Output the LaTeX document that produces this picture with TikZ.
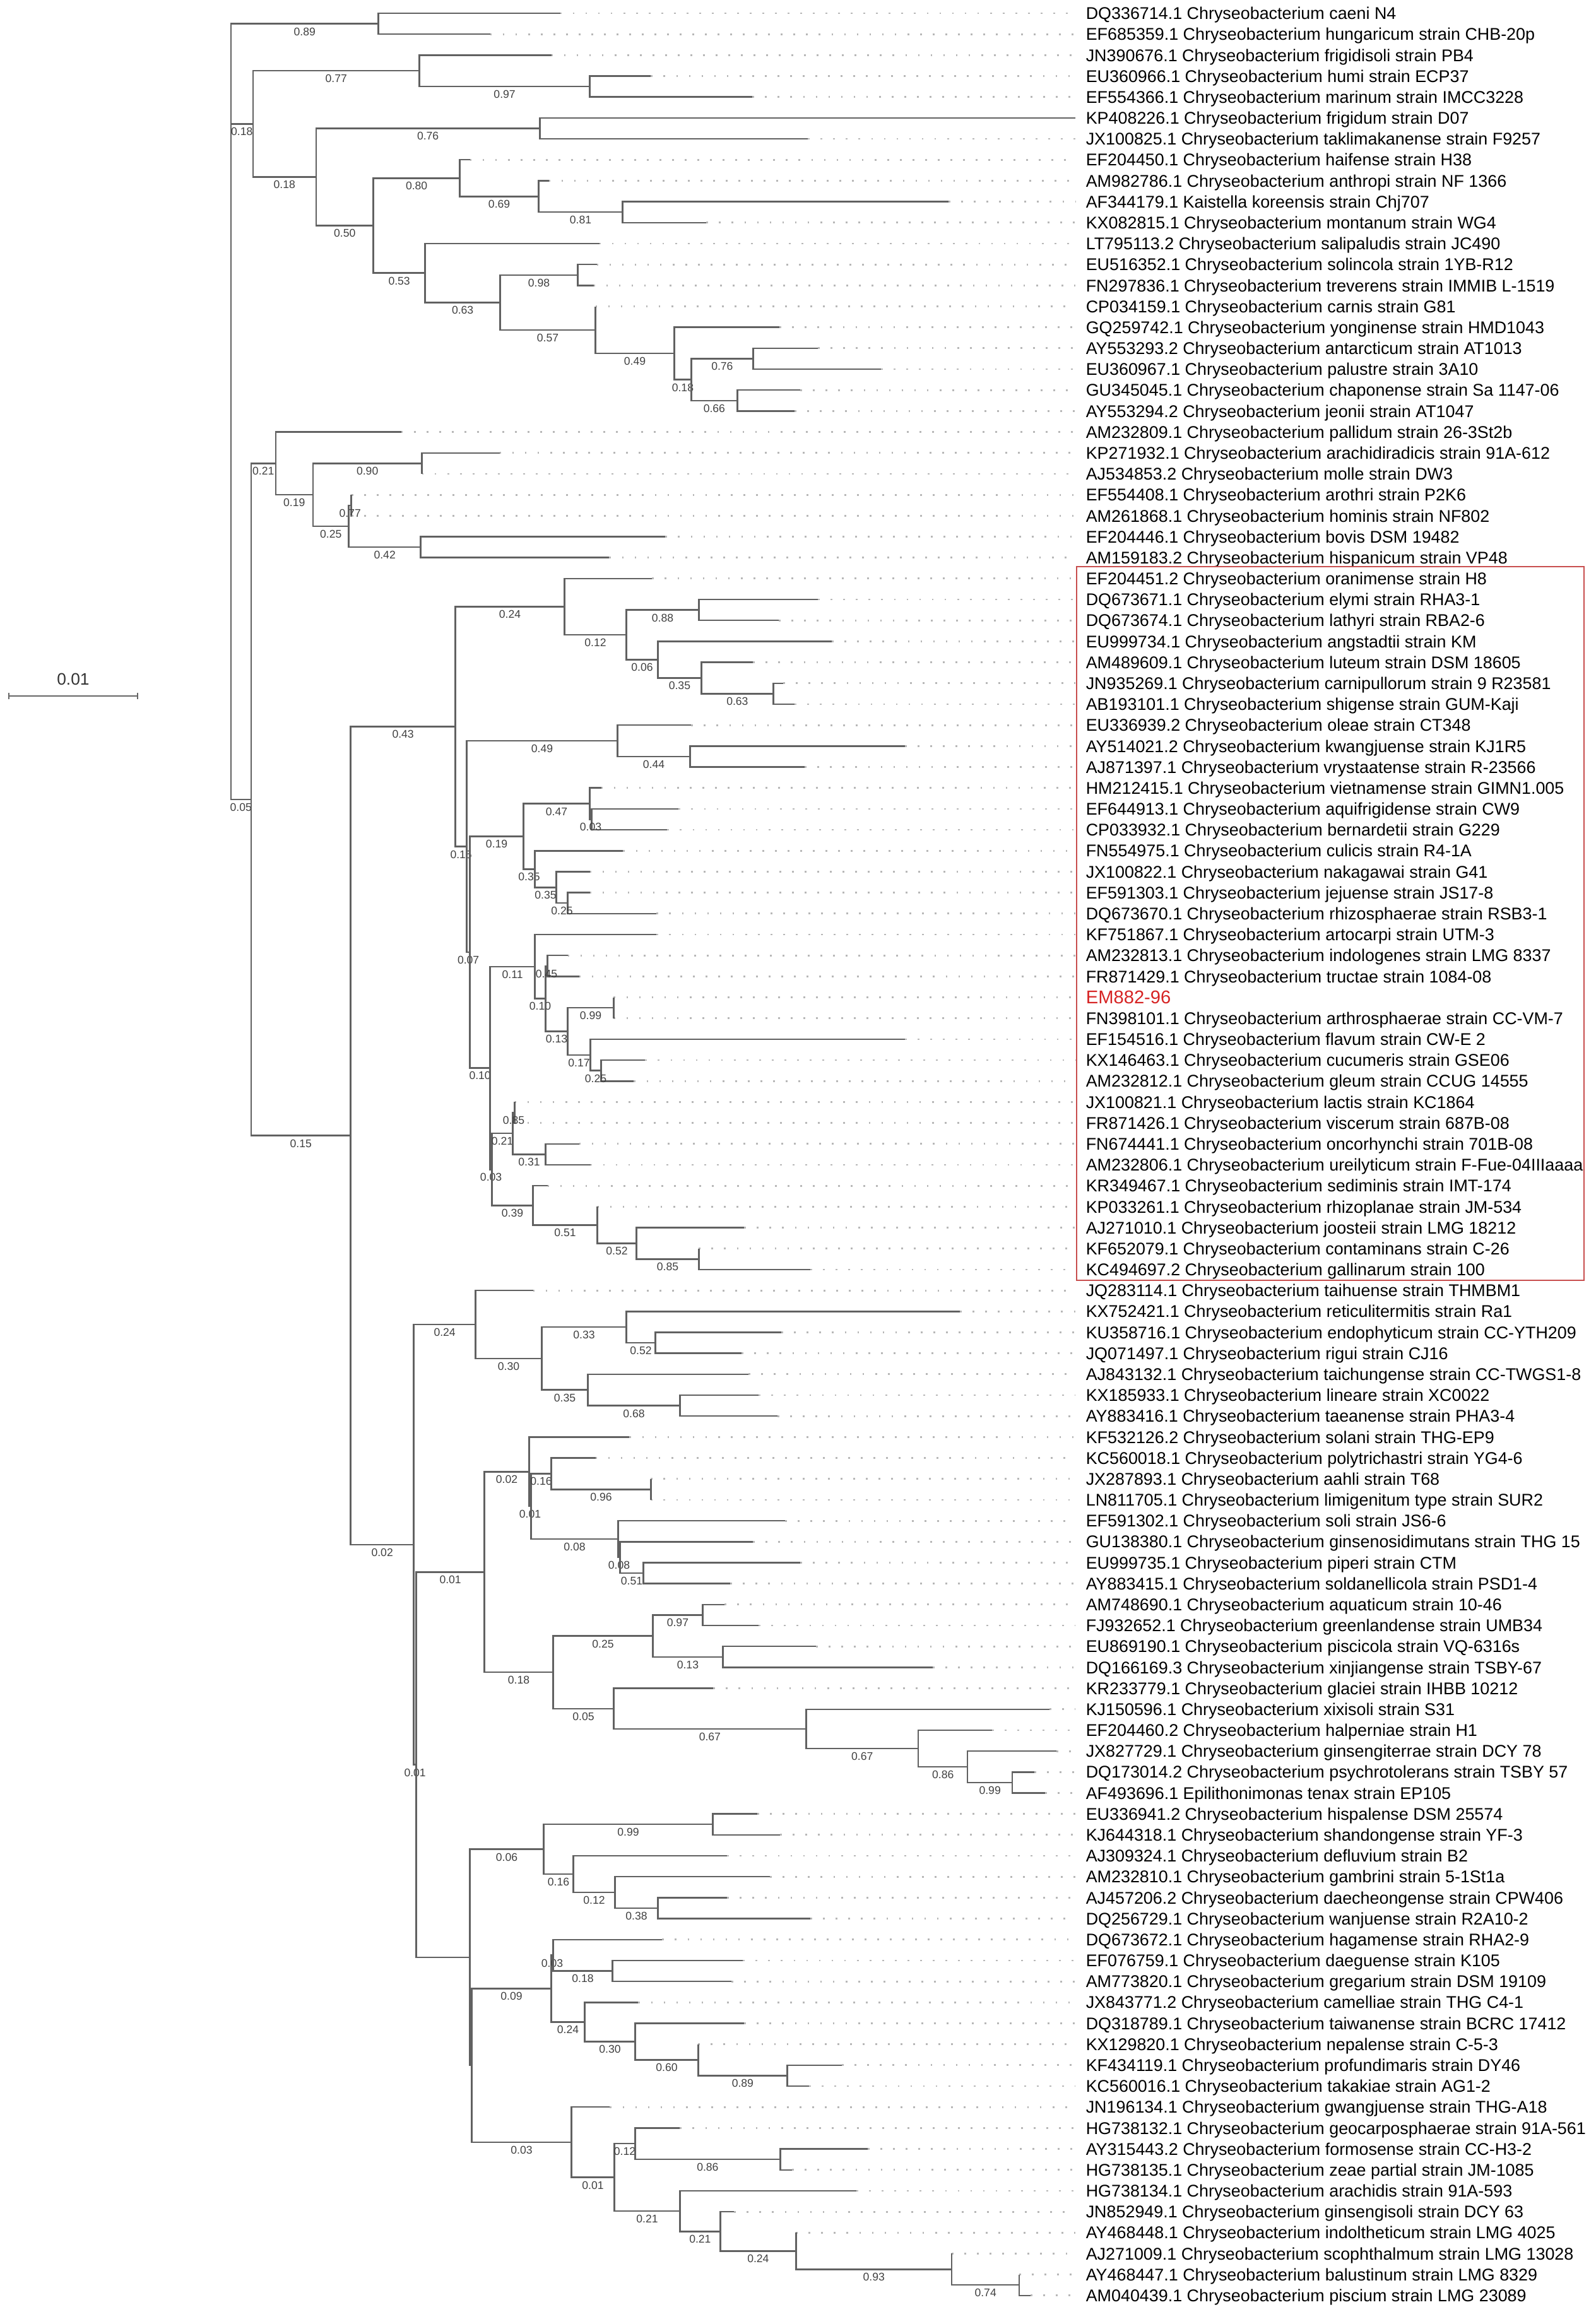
\documentclass[tikz,border=0pt]{standalone}
\usepackage{fontspec}
\setmainfont{Liberation Sans}
\usetikzlibrary{arrows.meta}
\definecolor{boxred}{RGB}{200,78,78}
\definecolor{emred}{RGB}{214,36,36}
\begin{document}
\begin{tikzpicture}[x=0.01cm, y=-0.3318cm]
\tikzset{branch/.style={draw=black!62, line width=0.7pt},
  leader/.style={draw=black!28, line width=0.8pt, dash pattern=on 0.8pt off 4.9pt, shorten >=0.16cm},
  leaf/.style={anchor=west, inner sep=0pt, font=\fontsize{7.65}{9}\selectfont, text height=5.5pt, text depth=0pt},
  boot/.style={pos=0.75, anchor=north, inner sep=0pt, yshift=-1.3pt, font=\fontsize{5}{6}\selectfont, text=black!75, text height=3.6pt, text depth=0pt},
  scalebar/.style={draw=black!60, line width=0.6pt, {Bar[width=3pt]}-{Bar[width=3pt]}}}
\useasboundingbox (0,0.367) rectangle (2530,110.79);

\coordinate (root) at (366,20);
\coordinate (nA) at (600,1.5);
\coordinate (nB) at (401,6.285);
\coordinate (nB1) at (665,3.75);
\coordinate (nB1b) at (935,4.5);
\coordinate (nB2) at (501,8.82);
\coordinate (nB2a) at (856,6.5);
\coordinate (n050) at (592,11.14);
\coordinate (n080) at (729,8.875);
\coordinate (n069) at (854,9.75);
\coordinate (n081) at (987,10.5);
\coordinate (n053) at (674,13.406);
\coordinate (n063) at (793,14.8125);
\coordinate (n098) at (916,13.5);
\coordinate (n057) at (944,16.125);
\coordinate (n049) at (1069,17.25);
\coordinate (n018b) at (1096,18.5);
\coordinate (n076) at (1194,17.5);
\coordinate (n066) at (1169,19.5);
\coordinate (nC) at (398,38.55);
\coordinate (nD) at (437,22.5);
\coordinate (n019) at (496,24);
\coordinate (n090) at (669,22.5);
\coordinate (n025) at (553,25.5);
\coordinate (n077) at (557,24.5);
\coordinate (n042) at (667,26.5);
\coordinate (nH) at (556,54.6);
\coordinate (n043) at (722,35.07);
\coordinate (n024) at (895,29.34);
\coordinate (n012) at (993,30.69);
\coordinate (n088) at (1108,29.5);
\coordinate (n006) at (1043,31.875);
\coordinate (n035) at (1112,32.75);
\coordinate (n063b) at (1226,33.5);
\coordinate (n015) at (740,40.8);
\coordinate (n049b) at (979,35.75);
\coordinate (n044) at (1094,36.5);
\coordinate (n007) at (745,45.84);
\coordinate (n019b) at (830,40.31);
\coordinate (n047) at (935,38.75);
\coordinate (n003) at (938,39.5);
\coordinate (n035b) at (848,41.875);
\coordinate (n035c) at (882,42.75);
\coordinate (n025b) at (900,43.5);
\coordinate (n010) at (777,51.375);
\coordinate (n011) at (848,46.53);
\coordinate (n010b) at (865,48.06);
\coordinate (n045) at (868,46.5);
\coordinate (n013) at (900,49.625);
\coordinate (n099) at (973,48.5);
\coordinate (n017) at (936,50.75);
\coordinate (n025c) at (953,51.5);
\coordinate (n003b) at (780,56.22);
\coordinate (n021) at (813,54.5);
\coordinate (n085) at (816,53.5);
\coordinate (n031) at (865,55.5);
\coordinate (n039) at (845,57.94);
\coordinate (n051) at (947,58.875);
\coordinate (n052) at (1009,59.75);
\coordinate (n085b) at (1108,60.5);
\coordinate (n002b) at (656,74.14);
\coordinate (n024b) at (754,63.625);
\coordinate (n030) at (859,65.25);
\coordinate (n033) at (993,63.75);
\coordinate (n052b) at (1039,64.5);
\coordinate (n035d) at (932,66.75);
\coordinate (n068) at (1078,67.5);
\coordinate (n001d) at (660,84.65);
\coordinate (n001) at (768,75.45);
\coordinate (n002) at (839,70.66);
\coordinate (n001b) at (842,72.31);
\coordinate (n016) at (874,70.75);
\coordinate (n096) at (1032,71.5);
\coordinate (n008) at (980,73.875);
\coordinate (n008b) at (983,74.75);
\coordinate (n051b) at (1020,75.5);
\coordinate (n018c) at (877,80.23);
\coordinate (n025d) at (1035,78.5);
\coordinate (n097) at (1114,77.5);
\coordinate (n013b) at (1146,79.5);
\coordinate (n005) at (973,81.97);
\coordinate (n067) at (1278,82.94);
\coordinate (n067b) at (1456,83.875);
\coordinate (n086) at (1534,84.75);
\coordinate (n099b) at (1605,85.5);
\coordinate (nT) at (745,93.85);
\coordinate (n006b) at (862,88.69);
\coordinate (n099c) at (1130,87.5);
\coordinate (n016b) at (909,89.875);
\coordinate (n012b) at (975,90.75);
\coordinate (n038) at (1043,91.5);
\coordinate (nU) at (748,99.01);
\coordinate (n009) at (874,95.34);
\coordinate (n003c) at (877,93.75);
\coordinate (n018d) at (971,94.5);
\coordinate (n024c) at (927,96.94);
\coordinate (n030b) at (1007,97.875);
\coordinate (n060) at (1107,98.75);
\coordinate (n089) at (1248,99.5);
\coordinate (n003d) at (906,102.68);
\coordinate (n001c) at (974,104.36);
\coordinate (n012c) at (1007,102.75);
\coordinate (n086b) at (1237,103.5);
\coordinate (n021b) at (1078,105.97);
\coordinate (n021c) at (1142,106.94);
\coordinate (n024d) at (1262,107.875);
\coordinate (n093) at (1509,108.75);
\coordinate (n074) at (1616,109.5);

\foreach \i/\p/\t/\s in {
1/nA/888/DQ336714.1 Chryseobacterium caeni N4,
2/nA/777/EF685359.1 Chryseobacterium hungaricum strain CHB-20p,
3/nB1/874/JN390676.1 Chryseobacterium frigidisoli strain PB4,
4/nB1b/1032/EU360966.1 Chryseobacterium humi strain ECP37,
5/nB1b/1193/EF554366.1 Chryseobacterium marinum strain IMCC3228,
6/nB2a/1705/KP408226.1 Chryseobacterium frigidum strain D07,
7/nB2a/1281/JX100825.1 Chryseobacterium taklimakanense strain F9257,
8/n080/745/EF204450.1 Chryseobacterium haifense strain H38,
9/n069/870/AM982786.1 Chryseobacterium anthropi strain NF 1366,
10/n081/1504/AF344179.1 Kaistella koreensis strain Chj707,
11/n081/1120/KX082815.1 Chryseobacterium montanum strain WG4,
12/n053/950/LT795113.2 Chryseobacterium salipaludis strain JC490,
13/n098/946/EU516352.1 Chryseobacterium solincola strain 1YB-R12,
14/n098/941/FN297836.1 Chryseobacterium treverens strain IMMIB L-1519,
15/n057/944/CP034159.1 Chryseobacterium carnis strain G81,
16/n049/1236/GQ259742.1 Chryseobacterium yonginense strain HMD1043,
17/n076/1297/AY553293.2 Chryseobacterium antarcticum strain AT1013,
18/n076/1397/EU360967.1 Chryseobacterium palustre strain 3A10,
19/n066/1269/GU345045.1 Chryseobacterium chaponense strain Sa 1147-06,
20/n066/1260/AY553294.2 Chryseobacterium jeonii strain AT1047,
21/nD/636/AM232809.1 Chryseobacterium pallidum strain 26-3St2b,
22/n090/792/KP271932.1 Chryseobacterium arachidiradicis strain 91A-612,
23/n090/669/AJ534853.2 Chryseobacterium molle strain DW3,
24/n077/557/EF554408.1 Chryseobacterium arothri strain P2K6,
25/n077/557/AM261868.1 Chryseobacterium hominis strain NF802,
26/n042/1055/EF204446.1 Chryseobacterium bovis DSM 19482,
27/n042/966/AM159183.2 Chryseobacterium hispanicum strain VP48,
28/n024/1034/EF204451.2 Chryseobacterium oranimense strain H8,
29/n088/1297/DQ673671.1 Chryseobacterium elymi strain RHA3-1,
30/n088/1235/DQ673674.1 Chryseobacterium lathyri strain RBA2-6,
31/n006/1319/EU999734.1 Chryseobacterium angstadtii strain KM,
32/n035/1194/AM489609.1 Chryseobacterium luteum strain DSM 18605,
33/n063b/1242/JN935269.1 Chryseobacterium carnipullorum strain 9 R23581,
34/n063b/1260/AB193101.1 Chryseobacterium shigense strain GUM-Kaji,
35/n049b/1096/EU336939.2 Chryseobacterium oleae strain CT348,
36/n044/1435/AY514021.2 Chryseobacterium kwangjuense strain KJ1R5,
37/n044/1276/AJ871397.1 Chryseobacterium vrystaatense strain R-23566,
38/n047/953/HM212415.1 Chryseobacterium vietnamense strain GIMN1.005,
39/n003/1076/EF644913.1 Chryseobacterium aquifrigidense strain CW9,
40/n003/1058/CP033932.1 Chryseobacterium bernardetii strain G229,
41/n035b/988/FN554975.1 Chryseobacterium culicis strain R4-1A,
42/n035c/935/JX100822.1 Chryseobacterium nakagawai strain G41,
43/n025b/935/EF591303.1 Chryseobacterium jejuense strain JS17-8,
44/n025b/1041/DQ673670.1 Chryseobacterium rhizosphaerae strain RSB3-1,
45/n011/1041/KF751867.1 Chryseobacterium artocarpi strain UTM-3,
46/n045/900/AM232813.1 Chryseobacterium indologenes strain LMG 8337,
47/n045/918/FR871429.1 Chryseobacterium tructae strain 1084-08,
48/n099/973/{\fontsize{8.3}{10}\selectfont\color{emred}EM882-96},
49/n099/973/FN398101.1 Chryseobacterium arthrosphaerae strain CC-VM-7,
50/n017/1435/EF154516.1 Chryseobacterium flavum strain CW-E 2,
51/n025c/1023/KX146463.1 Chryseobacterium cucumeris strain GSE06,
52/n025c/1005/AM232812.1 Chryseobacterium gleum strain CCUG 14555,
53/n085/816/JX100821.1 Chryseobacterium lactis strain KC1864,
54/n085/816/FR871426.1 Chryseobacterium viscerum strain 687B-08,
55/n031/918/FN674441.1 Chryseobacterium oncorhynchi strain 701B-08,
56/n031/936/AM232806.1 Chryseobacterium ureilyticum strain F-Fue-04IIIaaaa,
57/n039/868/KR349467.1 Chryseobacterium sediminis strain IMT-174,
58/n051/947/KP033261.1 Chryseobacterium rhizoplanae strain JM-534,
59/n052/1180/AJ271010.1 Chryseobacterium joosteii strain LMG 18212,
60/n085b/1108/KF652079.1 Chryseobacterium contaminans strain C-26,
61/n085b/1285/KC494697.2 Chryseobacterium gallinarum strain 100,
62/n024b/845/JQ283114.1 Chryseobacterium taihuense strain THMBM1,
63/n033/1522/KX752421.1 Chryseobacterium reticulitermitis strain Ra1,
64/n052b/1239/KU358716.1 Chryseobacterium endophyticum strain CC-YTH209,
65/n052b/1176/JQ071497.1 Chryseobacterium rigui strain CJ16,
66/n035d/1187/AJ843132.1 Chryseobacterium taichungense strain CC-TWGS1-8,
67/n068/1203/KX185933.1 Chryseobacterium lineare strain XC0022,
68/n068/1233/AY883416.1 Chryseobacterium taeanense strain PHA3-4,
69/n002/998/KF532126.2 Chryseobacterium solani strain THG-EP9,
70/n016/944/KC560018.1 Chryseobacterium polytrichastri strain YG4-6,
71/n096/1032/JX287893.1 Chryseobacterium aahli strain T68,
72/n096/1032/LN811705.1 Chryseobacterium limigenitum type strain SUR2,
73/n008/1245/EF591302.1 Chryseobacterium soli strain JS6-6,
74/n008b/1194/GU138380.1 Chryseobacterium ginsenosidimutans strain THG 15,
75/n051b/1269/EU999735.1 Chryseobacterium piperi strain CTM,
76/n051b/1158/AY883415.1 Chryseobacterium soldanellicola strain PSD1-4,
77/n097/1149/AM748690.1 Chryseobacterium aquaticum strain 10-46,
78/n097/1203/FJ932652.1 Chryseobacterium greenlandense strain UMB34,
79/n013b/1294/EU869190.1 Chryseobacterium piscicola strain VQ-6316s,
80/n013b/1479/DQ166169.3 Chryseobacterium xinjiangense strain TSBY-67,
81/n005/1131/KR233779.1 Chryseobacterium glaciei strain IHBB 10212,
82/n067/1664/KJ150596.1 Chryseobacterium xixisoli strain S31,
83/n067b/1573/EF204460.2 Chryseobacterium halperniae strain H1,
84/n086/1675/JX827729.1 Chryseobacterium ginsengiterrae strain DCY 78,
85/n099b/1640/DQ173014.2 Chryseobacterium psychrotolerans strain TSBY 57,
86/n099b/1657/AF493696.1 Epilithonimonas tenax strain EP105,
87/n099c/1201/EU336941.2 Chryseobacterium hispalense DSM 25574,
88/n099c/1237/KJ644318.1 Chryseobacterium shandongense strain YF-3,
89/n016b/1153/AJ309324.1 Chryseobacterium defluvium strain B2,
90/n012b/1221/AM232810.1 Chryseobacterium gambrini strain 5-1St1a,
91/n038/1153/AJ457206.2 Chryseobacterium daecheongense strain CPW406,
92/n038/1285/DQ256729.1 Chryseobacterium wanjuense strain R2A10-2,
93/n003c/1050/DQ673672.1 Chryseobacterium hagamense strain RHA2-9,
94/n018d/1178/EF076759.1 Chryseobacterium daeguense strain K105,
95/n018d/1160/AM773820.1 Chryseobacterium gregarium strain DSM 19109,
96/n024c/1012/JX843771.2 Chryseobacterium camelliae strain THG C4-1,
97/n030b/1180/DQ318789.1 Chryseobacterium taiwanense strain BCRC 17412,
98/n060/1107/KX129820.1 Chryseobacterium nepalense strain C-5-3,
99/n089/1335/KF434119.1 Chryseobacterium profundimaris strain DY46,
100/n089/1283/KC560016.1 Chryseobacterium takakiae strain AG1-2,
101/n003d/967/JN196134.1 Chryseobacterium gwangjuense strain THG-A18,
102/n012c/1078/HG738132.1 Chryseobacterium geocarposphaerae strain 91A-561,
103/n086b/1376/AY315443.2 Chryseobacterium formosense strain CC-H3-2,
104/n086b/1256/HG738135.1 Chryseobacterium zeae partial strain JM-1085,
105/n021b/1358/HG738134.1 Chryseobacterium arachidis strain 91A-593,
106/n021c/1164/JN852949.1 Chryseobacterium ginsengisoli strain DCY 63,
107/n024d/1262/AY468448.1 Chryseobacterium indoltheticum strain LMG 4025,
108/n093/1509/AJ271009.1 Chryseobacterium scophthalmum strain LMG 13028,
109/n074/1616/AY468447.1 Chryseobacterium balustinum strain LMG 8329,
110/n074/1634/AM040439.1 Chryseobacterium piscium strain LMG 23089}{
  \coordinate (t\i) at (\t,\i);
  \node[leaf] (L\i) at (1721,\i) {\s};
  \draw[leader] (t\i) -- (L\i.west);
  \draw[branch] (\p) |- (t\i);
}

\foreach \p/\c/\b in {root/nA/0.89, root/nB/0.18, root/nC/0.05,
  nB/nB1/0.77, nB1/nB1b/0.97, nB/nB2/0.18, nB2/nB2a/0.76, nB2/n050/0.50,
  n050/n080/0.80, n080/n069/0.69, n069/n081/0.81, n050/n053/0.53, n053/n063/0.63,
  n063/n098/0.98, n063/n057/0.57, n057/n049/0.49, n049/n018b/0.18, n018b/n076/0.76, n018b/n066/0.66,
  nC/nD/0.21, nD/n019/0.19, n019/n090/0.90, n019/n025/0.25, n025/n077/0.77, n025/n042/0.42,
  nC/nH/0.15, nH/n043/0.43, n043/n024/0.24, n024/n012/0.12, n012/n088/0.88, n012/n006/0.06,
  n006/n035/0.35, n035/n063b/0.63,
  n043/n015/0.15, n015/n049b/0.49, n049b/n044/0.44, n015/n007/0.07, n007/n019b/0.19,
  n019b/n047/0.47, n047/n003/0.03, n019b/n035b/0.35, n035b/n035c/0.35, n035c/n025b/0.25,
  n007/n010/0.10, n010/n011/0.11, n011/n010b/0.10, n010b/n045/0.45, n010b/n013/0.13,
  n013/n099/0.99, n013/n017/0.17, n017/n025c/0.25,
  n010/n003b/0.03, n003b/n021/0.21, n021/n085/0.85, n021/n031/0.31, n003b/n039/0.39,
  n039/n051/0.51, n051/n052/0.52, n052/n085b/0.85,
  nH/n002b/0.02, n002b/n024b/0.24, n024b/n030/0.30, n030/n033/0.33, n033/n052b/0.52,
  n030/n035d/0.35, n035d/n068/0.68,
  n002b/n001d/0.01, n001d/n001/0.01, n001/n002/0.02, n002/n001b/0.01, n001b/n016/0.16,
  n016/n096/0.96, n001b/n008/0.08, n008/n008b/0.08, n008b/n051b/0.51,
  n001/n018c/0.18, n018c/n025d/0.25, n025d/n097/0.97, n025d/n013b/0.13, n018c/n005/0.05,
  n005/n067/0.67, n067/n067b/0.67, n067b/n086/0.86, n086/n099b/0.99,
  n001d/nT/{}, nT/n006b/0.06, n006b/n099c/0.99, n006b/n016b/0.16, n016b/n012b/0.12, n012b/n038/0.38,
  nT/nU/{}, nU/n009/0.09, n009/n003c/0.03, n003c/n018d/0.18, n009/n024c/0.24, n024c/n030b/0.30,
  n030b/n060/0.60, n060/n089/0.89,
  nU/n003d/0.03, n003d/n001c/0.01, n001c/n012c/0.12, n012c/n086b/0.86, n001c/n021b/0.21,
  n021b/n021c/0.21, n021c/n024d/0.24, n024d/n093/0.93, n093/n074/0.74}{
  \draw[branch] (\p) |- (\c) node[boot] {\b};
}

\draw[boxred, line width=0.6pt] (1707,27.43) rectangle (2511,61.52);

\coordinate (sbL) at (13,33.61);
\coordinate (sbR) at (219,33.61);
\draw[scalebar] (sbL) -- (sbR) node[midway, anchor=south, inner sep=0pt, yshift=4.6pt, font=\fontsize{7.5}{9}\selectfont, text=black!80] {0.01};
\end{tikzpicture}
\end{document}
